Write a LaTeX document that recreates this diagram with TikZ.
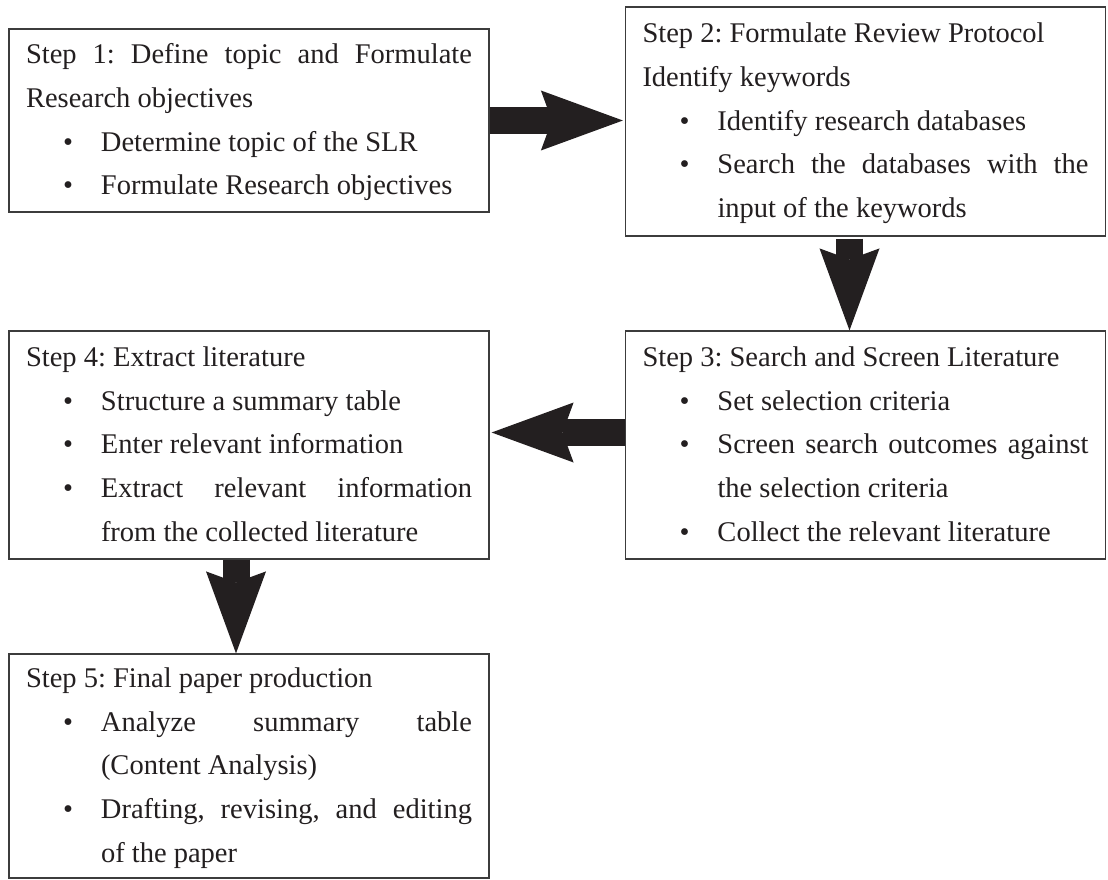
\documentclass[tikz,border=0pt]{standalone}
\usepackage{fontspec}
\setmainfont{Liberation Serif}
\usetikzlibrary{arrows.meta}

\definecolor{boxline}{HTML}{3C3C3C}
\definecolor{arrowfill}{HTML}{231F20}

\newcommand{\slrfont}{\fontsize{28.5pt}{43.7pt}\selectfont\frenchspacing
  \parindent=0pt\tolerance=10000\hyphenpenalty=10000}
\newcommand{\slritem}[1]{\par\noindent\hangindent=75pt\hangafter=1%
  \makebox[75pt][l]{\hspace{37pt}\textbullet}#1\par}

\begin{document}
\begin{tikzpicture}[x=1pt,y=1pt,
  stepbox/.style={draw=boxline,line width=1.2pt,fill=white,align=justify,
    text width=446pt,inner xsep=17pt,inner ysep=0pt,minimum width=480pt,
    font=\slrfont,text=arrowfill},
  flow/.style={draw=arrowfill,line width=27pt,
    -{Stealth[length=82pt 0 0,width=60pt 0 0,inset=11pt 0 0,line width=0pt 0 0]}}]

\useasboundingbox (0,0) rectangle (1108,-880);

\node[stepbox,minimum height=183pt] (topic) at (249,-120.5)
  {\noindent\strut Step 1: Define topic and Formulate\linebreak Research objectives
   \slritem{Determine topic of the SLR}
   \slritem{Formulate Research objectives\strut}};
\node[stepbox,minimum height=229pt] (protocol) at (865.5,-121.5)
  {\noindent\strut Step 2: Formulate Review Protocol\par\noindent Identify keywords
   \slritem{Identify research databases}
   \slritem{Search the databases with the\linebreak input of the keywords\strut}};
\node[stepbox,minimum height=228pt] (screen) at (865.5,-445)
  {\noindent\strut Step 3: Search and Screen Literature
   \slritem{Set selection criteria}
   \slritem{Screen search outcomes against\linebreak the selection criteria}
   \slritem{Collect the relevant literature\strut}};
\node[stepbox,minimum height=228pt] (extract) at (249,-445)
  {\noindent\strut Step 4: Extract literature
   \slritem{Structure a summary table}
   \slritem{Enter relevant information}
   \slritem{Extract relevant information\linebreak from the collected literature\strut}};
\node[stepbox,minimum height=224pt] (production) at (249,-766)
  {\noindent\strut Step 5: Final paper production
   \slritem{Analyze summary table\linebreak (Content Analysis)}
   \slritem{Drafting, revising, and editing\linebreak of the paper\strut}};

\draw[flow,shorten >=2pt] (topic.east) -- (topic.east -| protocol.west);
\draw[flow,shorten <=2pt] ([xshift=-16pt]protocol.south) -- ([xshift=-16pt]screen.north);
\draw[flow,shorten >=2pt] ([yshift=12.5pt]screen.west) -- ([yshift=12.5pt]extract.east);
\draw[flow] ([xshift=-13pt]extract.south) -- ([xshift=-13pt]production.north);
\end{tikzpicture}
\end{document}
